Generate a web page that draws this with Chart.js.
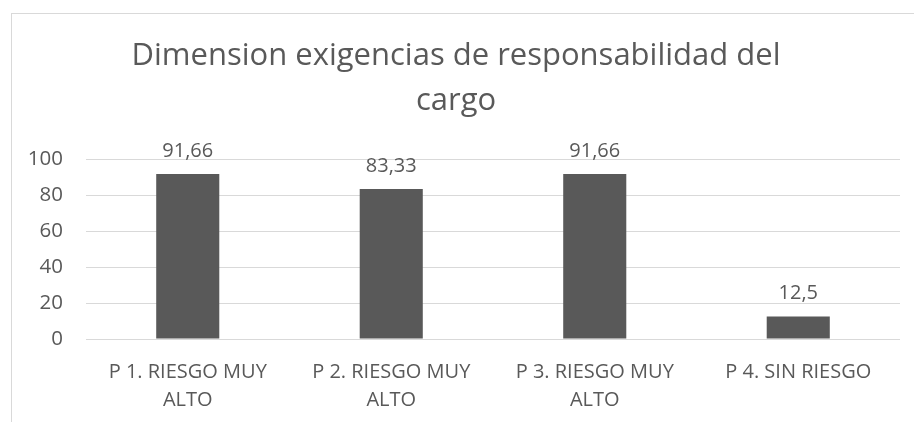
<!DOCTYPE html>
<html lang="es">
<head>
    <meta charset="UTF-8">
    <title>Dimension exigencias de responsabilidad del cargo</title>
    <script src="https://cdn.jsdelivr.net/npm/chart.js@4.4.4/dist/chart.umd.min.js"></script>
    <style>
        html, body {
            margin: 0;
            padding: 0;
            background: #ffffff;
            overflow: hidden;
        }
        #frame {
            position: absolute;
            left: 11px;
            top: 13px;
            width: 1000px;
            height: 600px;
            border: 1px solid #d9d9d9;
        }
        #chart-container {
            position: absolute;
            left: 0;
            top: 0;
            width: 914px;
            height: 422px;
        }
    </style>
</head>
<body>
    <div id="frame"></div>
    <div id="chart-container">
        <canvas id="cargo-chart" width="914" height="422"></canvas>
    </div>

    <script>
        // datos
        const titleLines = ['Dimension exigencias de responsabilidad del', 'cargo'];
        const categories = [
            ['P 1. RIESGO MUY', 'ALTO'],
            ['P 2. RIESGO MUY', 'ALTO'],
            ['P 3. RIESGO MUY', 'ALTO'],
            ['P 4. SIN RIESGO']
        ];
        const values = [91.66, 83.33, 91.66, 12.5];
        const yTicks = [0, 20, 40, 60, 80, 100];

        const textColor = '#595959';
        const fontFamily = '"Open Sans", Lato, sans-serif';

        // etiquetas de valor encima de cada barra
        const barLabels = {
            id: 'barLabels',
            afterDatasetsDraw(chart) {
                const ctx = chart.ctx;
                const meta = chart.getDatasetMeta(0);
                ctx.save();
                ctx.fillStyle = textColor;
                ctx.font = '20px ' + fontFamily;
                ctx.textAlign = 'center';
                ctx.textBaseline = 'bottom';
                meta.data.forEach((bar, i) => {
                    const txt = String(values[i]).replace('.', ',');
                    ctx.fillText(txt, bar.x, bar.y - 13);
                });
                ctx.restore();
            }
        };

        const ctx = document.getElementById('cargo-chart').getContext('2d');
        new Chart(ctx, {
            type: 'bar',
            data: {
                labels: categories,
                datasets: [{
                    data: values,
                    backgroundColor: '#595959',
                    categoryPercentage: 1,
                    barPercentage: 0.31
                }]
            },
            options: {
                responsive: false,
                animation: false,
                layout: {
                    padding: { left: 12, right: 14, top: 0, bottom: 0 }
                },
                plugins: {
                    legend: { display: false },
                    tooltip: { enabled: false },
                    title: {
                        display: true,
                        text: titleLines,
                        color: textColor,
                        font: { family: fontFamily, size: 31, weight: 'normal', lineHeight: '45px' },
                        padding: { top: 34, bottom: 35 }
                    }
                },
                scales: {
                    x: {
                        grid: { display: false },
                        border: { display: false },
                        ticks: {
                            color: textColor,
                            font: { family: fontFamily, size: 20, lineHeight: '28px' },
                            padding: 11,
                            maxRotation: 0
                        },
                        afterFit(scale) { scale.height = 83; }
                    },
                    y: {
                        min: 0,
                        max: 100,
                        afterBuildTicks(scale) {
                            scale.ticks = yTicks.map(v => ({ value: v }));
                        },
                        grid: { color: '#d9d9d9', drawTicks: false },
                        border: { display: false },
                        ticks: {
                            color: textColor,
                            font: { family: fontFamily, size: 20.5 },
                            padding: 23
                        },
                        afterFit(scale) { scale.width = 74; }
                    }
                }
            },
            plugins: [barLabels]
        });
    </script>
</body>
</html>
